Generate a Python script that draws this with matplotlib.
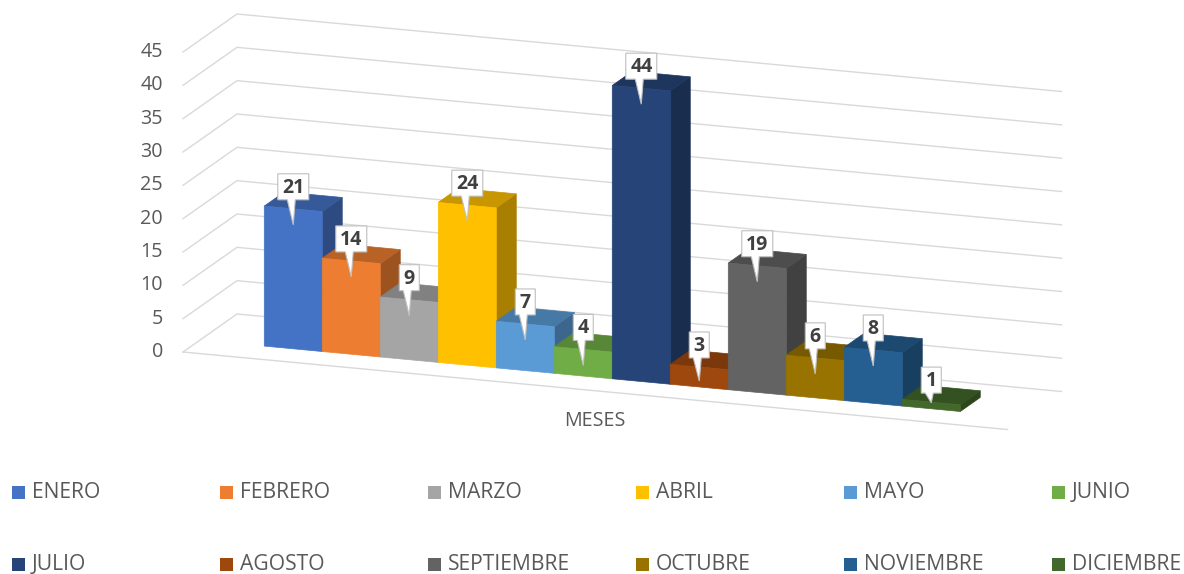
import matplotlib.pyplot as plt
from matplotlib.patches import Polygon, Rectangle

plt.rcParams['font.family'] = ['Open Sans', 'DejaVu Sans']

# datos
meses = ['ENERO', 'FEBRERO', 'MARZO', 'ABRIL', 'MAYO', 'JUNIO',
         'JULIO', 'AGOSTO', 'SEPTIEMBRE', 'OCTUBRE', 'NOVIEMBRE', 'DICIEMBRE']
valores = [21, 14, 9, 24, 7, 4, 44, 3, 19, 6, 8, 1]
colores = ['#4472C4', '#ED7D31', '#A5A5A5', '#FFC000', '#5B9BD5', '#70AD47',
           '#264478', '#9E480E', '#636363', '#997300', '#255E91', '#43682B']
marcas_y = [0, 5, 10, 15, 20, 25, 30, 35, 40, 45]
titulo_x = 'MESES'

# proyeccion oblicua tipo "columna 3D" de Excel (pixeles)
ORIGEN = (183, 352)      # esquina frontal izquierda del piso
ANCHO_CAT = 58           # ancho de cada barra
PENDIENTE = 0.094        # caida del eje de categorias
PROF = (54, -38)         # vector de profundidad del piso
ESC_Z = 300 / 45         # pixeles por unidad
MARGEN = 1.108           # hueco a cada lado (en barras)
D0, D1 = 0.315, 0.685    # profundidad ocupada por las barras
ANCHO_PISO = len(valores) + 2 * MARGEN
GRIS_TXT = '#595959'
GRIS_LINEA = '#D9D9D9'


def proy(u, d, z):
    x = ORIGEN[0] + u * ANCHO_CAT + d * PROF[0]
    y = ORIGEN[1] + u * ANCHO_CAT * PENDIENTE + d * PROF[1] - z * ESC_Z
    return x, y


def oscurecer(color, f):
    c = color.lstrip('#')
    r, g, b = (int(c[i:i + 2], 16) / 255 for i in (0, 2, 4))
    return (r * f, g * f, b * f)


fig = plt.figure(figsize=(11.84, 5.74), dpi=100)
ax = fig.add_axes([0, 0, 1, 1])
ax.set_xlim(0, 1184)
ax.set_ylim(574, 0)
ax.axis('off')

# paredes y lineas de division
for k in marcas_y:
    a = proy(0, 0, k)
    b = proy(0, 1, k)
    c = proy(ANCHO_PISO, 1, k)
    ax.plot([a[0], b[0], c[0]], [a[1], b[1], c[1]], color=GRIS_LINEA, lw=1, zorder=1)
    ax.text(a[0] - 20, a[1], str(k), ha='right', va='center',
            fontsize=14.2, color=GRIS_TXT)
a = proy(0, 0, 0)
c = proy(ANCHO_PISO, 0, 0)
ax.plot([a[0], c[0]], [a[1], c[1]], color=GRIS_LINEA, lw=1, zorder=1)

# barras
for i, (v, col) in enumerate(zip(valores, colores)):
    u0, u1 = MARGEN + i, MARGEN + i + 1
    lateral = [proy(u1, D0, 0), proy(u1, D1, 0), proy(u1, D1, v), proy(u1, D0, v)]
    tapa = [proy(u0, D0, v), proy(u1, D0, v), proy(u1, D1, v), proy(u0, D1, v)]
    frente = [proy(u0, D0, 0), proy(u1, D0, 0), proy(u1, D0, v), proy(u0, D0, v)]
    for pts, c in ((lateral, oscurecer(col, 0.66)), (tapa, oscurecer(col, 0.78)),
                   (frente, col)):
        ax.add_patch(Polygon(pts, closed=True, facecolor=c, edgecolor=c,
                             lw=0.5, zorder=2))

# etiquetas de datos (globos)
for i, v in enumerate(valores):
    cx, ytop = proy(MARGEN + i + 0.5, D0, v)
    _, ybot = proy(MARGEN + i + 0.5, D0, 0)
    punta = min(ytop + 16, ybot - 6)
    base = ytop - 9
    arriba = base - 26
    w = 9 + 11 * len(str(v))
    globo = [(cx - w / 2, arriba), (cx + w / 2, arriba), (cx + w / 2, base),
             (cx + 2, base), (cx, punta), (cx - 6, base), (cx - w / 2, base)]
    ax.add_patch(Polygon(globo, closed=True, facecolor='white',
                         edgecolor='#BFBFBF', lw=0.8, zorder=5))
    ax.text(cx, (arriba + base) / 2 + 1, str(v), ha='center', va='center',
            fontsize=14, fontweight='bold', color='#404040', zorder=6)

# titulo del eje
mx, my = proy(ANCHO_PISO / 2, 0, 0)
ax.text(mx, my + 30, titulo_x, ha='center', va='center', fontsize=14.2,
        color=GRIS_TXT)

# leyenda (2 filas x 6 columnas)
for i, (m, col) in enumerate(zip(meses, colores)):
    x = 12 + (i % 6) * 208
    y = 492 + (i // 6) * 72
    ax.add_patch(Rectangle((x, y - 6.5), 13, 13, facecolor=col, edgecolor='none'))
    ax.text(x + 20, y, m, ha='left', va='center', fontsize=15.2, color=GRIS_TXT)

fig.savefig('out.png', dpi=100)
